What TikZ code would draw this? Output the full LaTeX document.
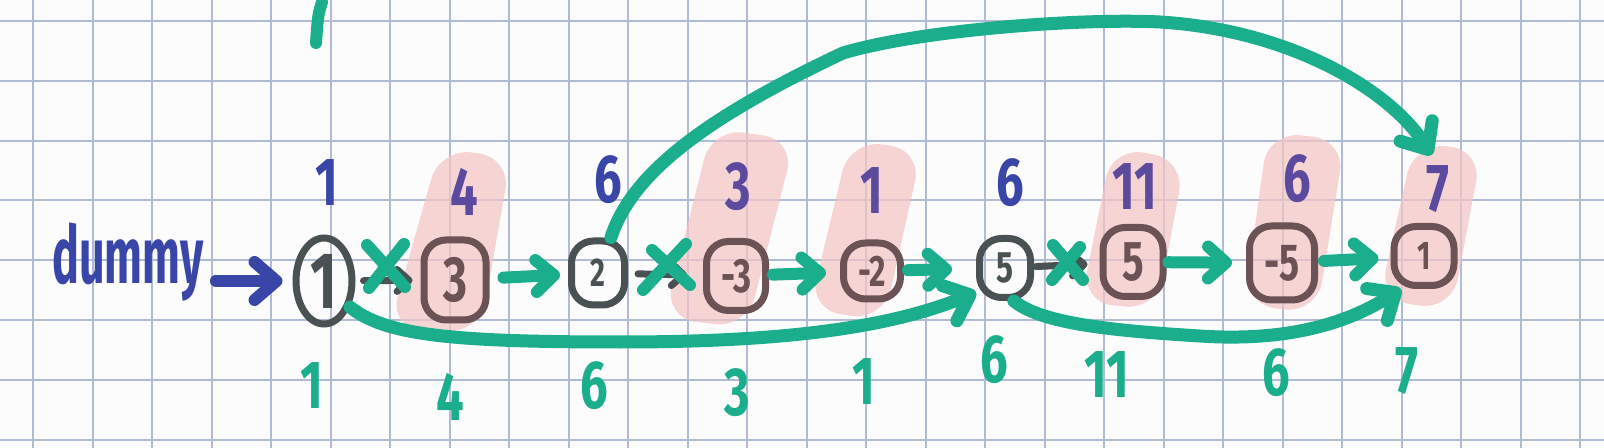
\documentclass[tikz,border=0pt]{standalone}
\usepackage{fontspec}
\setmainfont{Fira Sans}
\usetikzlibrary{arrows.meta,shapes.geometric}
\definecolor{hgreen}{HTML}{1AAE8C}
\definecolor{hblue}{HTML}{3A45A8}
\definecolor{hpurple}{HTML}{5B4A9E}
\definecolor{hgray}{HTML}{4A5152}
\definecolor{hbrown}{HTML}{6B5254}
\definecolor{hgrid}{HTML}{B0BBD5}
\definecolor{hpink}{HTML}{F4C4C4}
\definecolor{hpaper}{HTML}{FCFCFD}
\newcommand\hw[1]{\scalebox{0.72}[1]{#1}}
\tikzset{
  gridline/.style={hgrid, line width=1pt},
  hl/.style={fill=hpink, fill opacity=0.7, rounded corners=16pt},
  lbl/.style={inner sep=0pt, font=\fontsize{34}{34}\selectfont\bfseries},
  toplbl/.style={lbl, text=hblue},
  toplblp/.style={lbl, text=hpurple},
  botlbl/.style={lbl, text=hgreen},
  val/.style={draw=hgray, line width=3.5pt, rounded corners=11pt, inner sep=0pt, text=hgray},
  valp/.style={val, draw=hbrown, text=hbrown},
  fs/.style={font=\fontsize{#1}{#1}\selectfont\bfseries},
  garrow/.style={draw=hgreen, line width=6pt, line cap=round, -{Straight Barb[length=9pt,width=16pt,round]}},
  gcurve/.style={draw=hgreen, line width=6.5pt, line cap=round, -{Straight Barb[length=11pt,width=19pt,round]}},
  barrow/.style={draw=hblue, line width=6pt, line cap=round, -{Straight Barb[length=11pt,width=19pt,round]}},
  darrow/.style={draw=hgray, line width=3.5pt, line cap=round, -{Straight Barb[length=6pt,width=11pt,round]}},
  cross/.style={draw=hgreen, line width=6pt, line cap=round},
}
\begin{document}
\begin{tikzpicture}[x=0.5pt,y=-0.5pt]
\useasboundingbox (0,0) rectangle (1604,448);
\fill[hpaper] (0,0) rectangle (1604,448);
% grid
\foreach \i in {0,...,26} \draw[gridline] ({33+59.5*\i},0) -- ({33+59.5*\i},448);
\foreach \j in {0,...,7} \draw[gridline] (0,{21+59.8*\j}) -- (1604,{21+59.8*\j});
% pink highlights
\fill[hl] (440,148) -- (511,158) -- (480,333) -- (389,328) -- cycle;
\fill[hl] (712,128) -- (795,140) -- (747,328) -- (664,318) -- cycle;
\fill[hl] (850,140) -- (922,150) -- (884,320) -- (809,310) -- cycle;
\fill[hl] (1112,147) -- (1185,160) -- (1157,310) -- (1081,302) -- cycle;
\fill[hl] (1268,132) -- (1345,140) -- (1317,313) -- (1244,305) -- cycle;
\fill[hl] (1414,143) -- (1482,150) -- (1452,310) -- (1379,300) -- cycle;
% stray stroke at top
\draw[cross] (322,2) .. controls (318,15) .. (316,43);
% dummy
\node[inner sep=0pt, text=hblue, font=\fontsize{40}{40}\selectfont\bfseries] (dummy) at (128,262) {\scalebox{0.56}[1]{dummy}};
% value nodes
\node[val, ellipse, minimum width=28pt, minimum height=43pt, fs=40] (n1) at (324,281) {\hw{1}};
\node[valp, minimum width=31pt, minimum height=40pt, fs=32] (n3) at (455,280) {\hw{3}};
\node[val, minimum width=26.5pt, minimum height=32pt, fs=20] (n2) at (598,273) {\hw{2}};
\node[valp, minimum width=29.5pt, minimum height=34.5pt, fs=24] (nm3) at (736,276) {\hw{-3}};
\node[valp, minimum width=28.5pt, minimum height=28pt, fs=22] (nm2) at (872,271) {\hw{-2}};
\node[val, minimum width=25.5pt, minimum height=29.5pt, fs=22] (n5a) at (1005,268) {\hw{5}};
\node[valp, minimum width=30pt, minimum height=34.5pt, fs=28] (n5b) at (1133,262) {\hw{5}};
\node[valp, minimum width=32.5pt, minimum height=37pt, fs=26] (nm5) at (1282,263) {\hw{-5}};
\node[valp, minimum width=30pt, minimum height=29.5pt, fs=20] (n1b) at (1424,256) {\hw{1}};
% top labels
\node[toplbl] (t1) at (327,183) {\hw{1}};
\node[toplblp] (t4) at (464,192) {\hw{4}};
\node[toplbl] (t6) at (608,180) {\hw{6}};
\node[toplblp] (t3) at (738,187) {\hw{3}};
\node[toplblp] (t1b) at (872,191) {\hw{1}};
\node[toplbl] (t6b) at (1010,183) {\hw{6}};
\node[toplblp] (t11) at (1135,187) {\hw{11}};
\node[toplblp] (t6c) at (1297,179) {\hw{6}};
\node[toplblp] (t7) at (1438,189) {\hw{7}};
% bottom labels
\node[botlbl] (b1) at (312,386) {\hw{1}};
\node[botlbl] (b4) at (450,397) {\hw{4}};
\node[botlbl] (b6) at (594,386) {\hw{6}};
\node[botlbl] (b3) at (737,393) {\hw{3}};
\node[botlbl] (b1b) at (864,382) {\hw{1}};
\node[botlbl] (b6b) at (994,360) {\hw{6}};
\node[botlbl] (b11) at (1107,375) {\hw{11}};
\node[botlbl] (b6c) at (1276,373) {\hw{6}};
\node[botlbl] (b7) at (1407,371) {\hw{7}};
% connectors
\draw[barrow, shorten <=6pt, shorten >=5pt] (dummy.east |- n1.west) -- (n1.west);
\draw[darrow, shorten <=4pt, shorten >=4pt] (n1) -- (n3);
\draw[garrow, shorten <=7pt, shorten >=4pt] (n3) -- (n2);
\draw[darrow, shorten <=5pt, shorten >=8pt] (n2) -- (nm3);
\draw[garrow, shorten <=2pt, shorten >=7pt] (nm3) -- (nm2);
\draw[garrow, shorten <=2pt, shorten >=12pt] (nm2) -- (n5a);
\draw[darrow, shorten <=1pt, shorten >=6pt] (n5a) -- (n5b);
\draw[garrow, shorten <=1pt, shorten >=7pt] (n5b) -- (nm5);
\draw[garrow, shorten <=3pt, shorten >=6pt] (nm5) -- (n1b);
% crosses
\draw[cross] (367,245) -- (405,287) (404,244) -- (369,288);
\draw[cross] (643,290) -- (686,244) (652,250) -- (690,285);
\draw[cross] (1053,245) -- (1083,280) (1080,247) -- (1052,280);
% long curves
\draw[gcurve] (n1.-45) .. controls (385,335) and (450,342) .. (620,342)
   .. controls (760,342) and (880,332) .. (n5a.-140);
\draw[gcurve] (n5a.-75) .. controls (1040,322) and (1100,330) .. (1200,336)
   .. controls (1290,342) and (1350,322) .. (n1b.-125);
\draw[gcurve, shorten >=6pt] (n2.70) .. controls (630,180) and (690,125) .. (843,53)
   .. controls (920,30) and (1080,18) .. (1160,22)
   .. controls (1290,30) and (1390,90) .. (t7.north);
\end{tikzpicture}
\end{document}
